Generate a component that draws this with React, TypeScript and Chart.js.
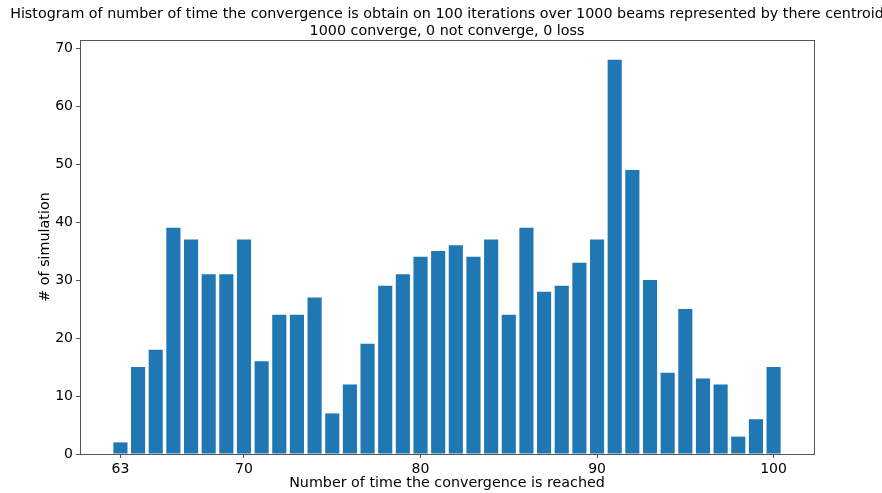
import React, { useEffect, useRef } from "react";
import { Chart, registerables } from "chart.js";

Chart.register(...registerables);

const iterations: number[] = [63, 64, 65, 66, 67, 68, 69, 70, 71, 72, 73, 74, 75, 76, 77, 78, 79, 80, 81, 82, 83, 84, 85, 86, 87, 88, 89, 90, 91, 92, 93, 94, 95, 96, 97, 98, 99, 100];
const counts: number[] = [2, 15, 18, 39, 37, 31, 31, 37, 16, 24, 24, 27, 7, 12, 19, 29, 31, 34, 35, 36, 34, 37, 24, 39, 28, 29, 33, 37, 68, 49, 30, 14, 25, 13, 12, 3, 6, 15];
const xTickValues: number[] = [63, 70, 80, 90, 100];
const yTickValues: number[] = [0, 10, 20, 30, 40, 50, 60, 70];

const titleLines: string[] = [
  "Histogram of number of time the convergence is obtain on 100 iterations over 1000 beams represented by there centroid",
  "1000 converge, 0 not converge, 0 loss",
];
const xLabel = "Number of time the convergence is reached";
const yLabel = "# of simulation";

const FONT = "'DejaVu Sans', sans-serif";
const SPINE = "#555";

const decorPlugin = {
  id: "decor",
  afterDraw(chart: any) {
    const { ctx, chartArea } = chart;
    const { left, right, top, bottom } = chartArea;
    ctx.save();
    ctx.strokeStyle = SPINE;
    ctx.lineWidth = 1;
    ctx.strokeRect(Math.round(left) + 0.5, Math.round(top) + 0.5, Math.round(right - left), Math.round(bottom - top));
    ctx.fillStyle = "#000";
    ctx.textAlign = "center";
    ctx.textBaseline = "middle";
    const cx = (left + right) / 2;
    ctx.font = `14.3px ${FONT}`;
    ctx.fillText(titleLines[0], cx, 14);
    ctx.fillText(titleLines[1], cx, 31);
    ctx.fillText(xLabel, cx, 483);
    ctx.translate(45, (top + bottom) / 2);
    ctx.rotate(-Math.PI / 2);
    ctx.fillText(yLabel, 0, 0);
    ctx.restore();
  },
};

export default function App() {
  const ref = useRef<HTMLCanvasElement | null>(null);
  useEffect(() => {
    if (!ref.current) return;
    const chart = new Chart(ref.current, {
      type: "bar",
      data: {
        datasets: [
          {
            data: iterations.map((x, i) => ({ x, y: counts[i] })),
            backgroundColor: "#1f77b4",
            borderWidth: 0,
            barPercentage: 0.8,
            categoryPercentage: 1,
          },
        ],
      },
      options: {
        animation: false,
        responsive: false,
        layout: { padding: { top: 40, right: 68, left: 0, bottom: 0 } },
        plugins: { legend: { display: false }, tooltip: { enabled: false }, title: { display: false } },
        scales: {
          x: {
            type: "linear",
            offset: false,
            min: 60.71,
            max: 102.29,
            afterBuildTicks: (scale: any) => {
              scale.ticks = xTickValues.map((v) => ({ value: v }));
            },
            afterFit: (scale: any) => {
              scale.height = 39;
            },
            grid: { display: true, offset: false, drawOnChartArea: false, tickLength: 4, color: SPINE, drawTicks: true },
            border: { display: false },
            ticks: { color: "#000", font: { family: FONT, size: 14 }, padding: 3, maxRotation: 0, autoSkip: false },
          },
          y: {
            type: "linear",
            min: 0,
            max: 71.4,
            afterBuildTicks: (scale: any) => {
              scale.ticks = yTickValues.map((v) => ({ value: v }));
            },
            afterFit: (scale: any) => {
              scale.width = 80;
            },
            grid: { display: true, offset: false, drawOnChartArea: false, tickLength: 4, color: SPINE },
            border: { display: false },
            ticks: { color: "#000", font: { family: FONT, size: 14 }, padding: 3 },
          },
        },
      },
      plugins: [decorPlugin],
    } as any);
    return () => chart.destroy();
  }, []);
  return (
    <div style={{ position: "fixed", left: 0, top: 0, width: 882, height: 493, background: "#fff" }}>
      <canvas ref={ref} width={882} height={493} style={{ width: 882, height: 493 }} />
    </div>
  );
}
